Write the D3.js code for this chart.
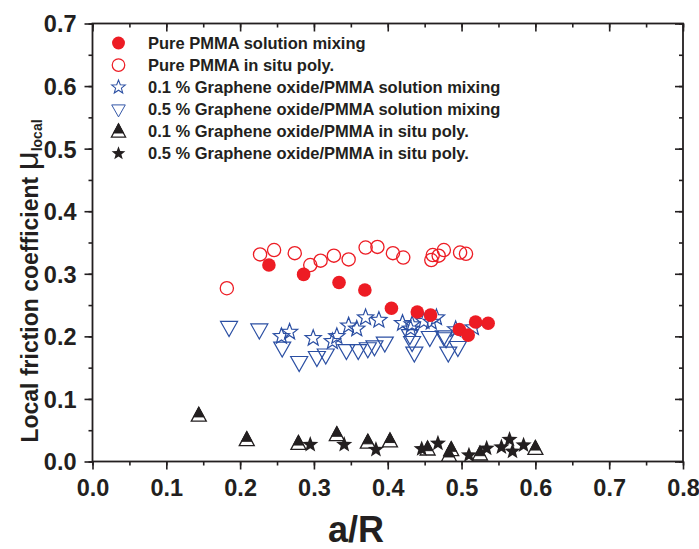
<!DOCTYPE html>
<html><head><meta charset="utf-8">
<script src="https://cdn.jsdelivr.net/npm/d3@7"></script>
<style>body{margin:0;background:#fff}svg{display:block}</style>
</head><body><svg id="c" width="699" height="549"></svg>
<script>
const xTicks = [0,0.1,0.2,0.3,0.4,0.5,0.6,0.7,0.8];
const yTicks = [0,0.1,0.2,0.3,0.4,0.5,0.6,0.7];

const pureSolX = [0.239,0.286,0.334,0.369,0.405,0.440,0.458,0.497,0.509,0.519,0.536];
const pureSolY = [0.314,0.299,0.286,0.274,0.245,0.239,0.234,0.211,0.202,0.223,0.221];

const pureInsituX = [0.182,0.227,0.246,0.274,0.295,0.309,0.327,0.347,0.370,0.386,0.407,0.421,0.459,0.461,0.469,0.476,0.498,0.506];
const pureInsituY = [0.277,0.331,0.338,0.333,0.314,0.321,0.329,0.323,0.342,0.343,0.333,0.326,0.322,0.330,0.329,0.338,0.334,0.332];

const go01SolX = [0.256,0.267,0.299,0.325,0.331,0.347,0.358,0.370,0.388,0.420,0.431,0.433,0.449,0.459,0.466,0.492,0.516];
const go01SolY = [0.200,0.207,0.197,0.192,0.200,0.217,0.212,0.230,0.226,0.221,0.212,0.219,0.224,0.223,0.230,0.211,0.214];

const go05SolX = [0.185,0.226,0.257,0.280,0.304,0.316,0.344,0.360,0.373,0.382,0.396,0.430,0.433,0.436,0.457,0.476,0.479,0.482,0.495];
const go05SolY = [0.215,0.211,0.182,0.159,0.167,0.171,0.178,0.178,0.181,0.184,0.190,0.202,0.191,0.174,0.199,0.200,0.197,0.174,0.183];

const go01InsituX = [0.144,0.209,0.279,0.331,0.373,0.403,0.454,0.486,0.483,0.525,0.600];
const go01InsituY = [0.074,0.035,0.029,0.043,0.031,0.033,0.020,0.019,0.010,0.012,0.021];

const go05InsituX = [0.295,0.341,0.384,0.446,0.468,0.510,0.534,0.554,0.565,0.569,0.584];
const go05InsituY = [0.027,0.027,0.019,0.020,0.029,0.010,0.021,0.023,0.035,0.016,0.026];

const seriesNames = [
  "Pure PMMA solution mixing",
  "Pure PMMA in situ poly.",
  "0.1 % Graphene oxide/PMMA solution mixing",
  "0.5 % Graphene oxide/PMMA solution mixing",
  "0.1 % Graphene oxide/PMMA in situ poly.",
  "0.5 % Graphene oxide/PMMA in situ poly."
];

(function(){
const RED = "#ed1c24", BLUE = "#2b4fa3", BLK = "#231f20";
const svg = d3.select("#c");
const L = 92.5, R = 683, T = 23.5, B = 461.5;
const x = d3.scaleLinear().domain([0,0.8]).range([L,R]);
const y = d3.scaleLinear().domain([0,0.7]).range([B,T]);
const FONT = "'Liberation Sans', Arial, Helvetica, sans-serif";

const g = svg.append("g");
const minorX = d3.range(0,0.81,0.05), minorY = d3.range(0,0.71,0.05);
g.append("g").attr("transform",`translate(0,${B})`)
  .call(d3.axisBottom(x).tickValues(minorX).tickSize(4).tickFormat(""));
const bottomMaj = g.append("g").attr("transform",`translate(0,${B})`)
  .call(d3.axisBottom(x).tickValues(xTicks).tickSize(8).tickPadding(8).tickFormat(d3.format(".1f")));
g.append("g").attr("transform",`translate(0,${T})`)
  .call(d3.axisBottom(x).tickValues(minorX).tickSize(4).tickFormat(""));
g.append("g").attr("transform",`translate(0,${T})`)
  .call(d3.axisBottom(x).tickValues(xTicks).tickSize(8).tickFormat(""));
g.append("g").attr("transform",`translate(${L},0)`)
  .call(d3.axisLeft(y).tickValues(minorY).tickSize(4).tickFormat(""));
const leftMaj = g.append("g").attr("transform",`translate(${L},0)`)
  .call(d3.axisLeft(y).tickValues(yTicks).tickSize(8).tickPadding(8).tickFormat(d3.format(".1f")));
g.append("g").attr("transform",`translate(${R},0)`)
  .call(d3.axisLeft(y).tickValues(minorY).tickSize(4).tickFormat(""));
g.append("g").attr("transform",`translate(${R},0)`)
  .call(d3.axisLeft(y).tickValues(yTicks).tickSize(8).tickFormat(""));
g.selectAll(".domain").remove();
g.selectAll(".tick line").attr("stroke",BLK).attr("stroke-width",1.6);
g.selectAll(".tick text").attr("font-family",FONT).attr("font-weight","bold")
  .attr("font-size",23.5).attr("fill",BLK);
bottomMaj.selectAll(".tick text").attr("dy","0.78em");
leftMaj.selectAll(".tick text").attr("dy","0.36em");
g.append("rect").attr("x",L).attr("y",T).attr("width",R-L).attr("height",B-T)
  .attr("fill","none").attr("stroke",BLK).attr("stroke-width",1.8);

svg.append("text").attr("x",356).attr("y",542)
  .attr("text-anchor","middle").attr("font-family",FONT).attr("font-weight","bold")
  .attr("font-size",36).attr("fill",BLK).text("a/R");
const yt = svg.append("text").attr("transform",`translate(38,281) rotate(-90)`)
  .attr("text-anchor","middle").attr("font-family",FONT).attr("font-weight","bold")
  .attr("font-size",23).attr("fill",BLK);
yt.append("tspan").text("Local friction coefficient ");
yt.append("tspan").attr("font-size",33).attr("font-weight","normal").text("μ");
yt.append("tspan").attr("font-size",14).attr("dy",4).text("local");

const circleFilled = (sel) => sel.append("circle").attr("r",6.8).attr("fill",RED);
const circleOpen = (sel) => sel.append("circle").attr("r",6.6).attr("fill","none").attr("stroke",RED).attr("stroke-width",1.3);
const starPath = (r) => {
  const ri = r*0.42; let p = [];
  for (let i=0;i<10;i++){ const a = -Math.PI/2 + i*Math.PI/5; const rr = i%2?ri:r; p.push([rr*Math.cos(a), rr*Math.sin(a)]); }
  return "M"+p.map(d=>d.map(v=>v.toFixed(2)).join(",")).join("L")+"Z";
};
const starOpen = (sel) => sel.append("path").attr("d",starPath(8.5)).attr("fill","none").attr("stroke",BLUE).attr("stroke-width",1.2);
const starFilled = (sel) => sel.append("path").attr("d",starPath(8.5)).attr("fill",BLK);
const triDown = (sel) => sel.append("path").attr("d","M-8.5,-5.5L8.5,-5.5L0,9.5Z").attr("fill","none").attr("stroke",BLUE).attr("stroke-width",1.2);
const triHalf = (sel) => {
  sel.append("path").attr("d","M0,-8L7.5,6L-7.5,6Z").attr("fill","#fff").attr("stroke",BLK).attr("stroke-width",1.3);
  sel.append("path").attr("d","M0,-8L5.2,1.7L-5.2,1.7Z").attr("fill",BLK).attr("stroke",BLK).attr("stroke-width",1);
};

const series = [
  {xs:pureInsituX, ys:pureInsituY, draw:circleOpen},
  {xs:go05SolX, ys:go05SolY, draw:triDown},
  {xs:go01SolX, ys:go01SolY, draw:starOpen},
  {xs:pureSolX, ys:pureSolY, draw:circleFilled},
  {xs:go01InsituX, ys:go01InsituY, draw:triHalf},
  {xs:go05InsituX, ys:go05InsituY, draw:starFilled}
];
series.forEach(s => {
  const pts = s.xs.map((v,i)=>[v,s.ys[i]]);
  svg.append("g").selectAll("g").data(pts).join("g")
    .attr("transform",d=>`translate(${x(d[0])},${y(d[1])})`)
    .each(function(){ s.draw(d3.select(this)); });
});

const legendDraw = [circleFilled, circleOpen, starOpen, triDown, triHalf, starFilled];
const lg = svg.append("g");
seriesNames.forEach((name,i) => {
  const yy = 43 + i*22.1;
  const sg = lg.append("g").attr("transform",`translate(118.5,${yy}) scale(${i===2||i===5?0.85:(i===3?0.8:0.95)})`);
  legendDraw[i](sg);
  lg.append("text").attr("x",148).attr("y",yy).attr("dy","0.36em")
    .attr("font-family",FONT).attr("font-weight","bold").attr("font-size",16.5)
    .attr("fill",BLK).text(name);
});
})();
</script></body></html>
